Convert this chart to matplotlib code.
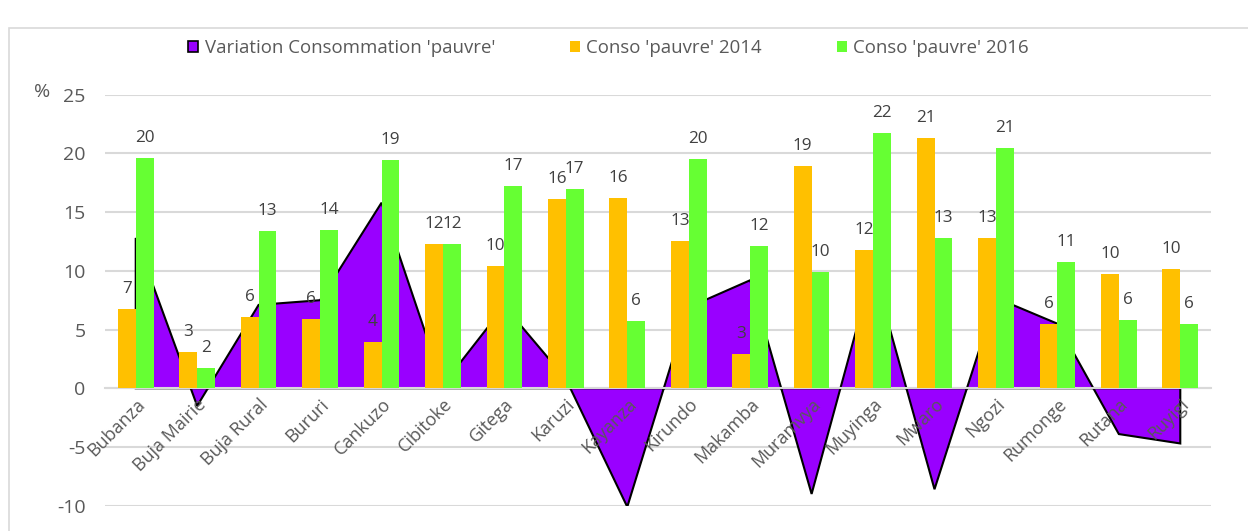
import numpy as np
import matplotlib.pyplot as plt
from matplotlib.patches import Patch, Rectangle

plt.rcParams['font.family'] = ['Open Sans', 'DejaVu Sans']
plt.rcParams['axes.unicode_minus'] = False

provinces = ['Bubanza', 'Buja Mairie', 'Buja Rural', 'Bururi', 'Cankuzo', 'Cibitoke',
             'Gitega', 'Karuzi', 'Kayanza', 'Kirundo', 'Makamba', 'Muramvya',
             'Muyinga', 'Mwaro', 'Ngozi', 'Rumonge', 'Rutana', 'Ruyigi']
variation = [12.8, -1.5, 7.1, 7.5, 15.8, 0.3, 7.0, 0.8, -10.1, 6.9, 9.2, -9.0,
             10.2, -8.6, 7.7, 5.5, -3.9, -4.7]
conso_2014 = [6.75, 3.08, 6.1, 5.92, 3.9, 12.25, 10.37, 16.1, 16.18, 12.5, 2.93, 18.9,
              11.76, 21.33, 12.76, 5.5, 9.77, 10.17]
conso_2016 = [19.57, 1.76, 13.36, 13.5, 19.43, 12.25, 17.26, 17.0, 5.75, 19.5, 12.1, 9.94,
              21.76, 12.76, 20.5, 10.77, 5.84, 5.5]
yticks = [-10, -5, 0, 5, 10, 15, 20, 25]

purple = '#9900FF'
orange = '#FFC000'
green = '#66FF33'
txt = '#595959'

fig = plt.figure(figsize=(12.48, 5.31), dpi=100)
ax = fig.add_axes([105 / 1248, 25.3 / 531, 1106 / 1248, 411 / 531])

x = np.arange(len(provinces))
w = 0.29

# area for the variation, drawn behind bars
px = np.concatenate([[x[0]], x, [x[-1]]])
py = np.concatenate([[0], variation, [0]])
ax.fill(px, py, facecolor=purple, edgecolor='black', linewidth=1.5, zorder=2)

ax.bar(x - w / 2, conso_2014, width=w, color=orange, zorder=4)
ax.bar(x + w / 2, conso_2016, width=w, color=green, zorder=4)

def lab(v):
    return str(int(np.floor(v + 0.5)))

for xi, a, b in zip(x, conso_2014, conso_2016):
    ax.annotate(lab(a), (xi - w / 2, a), xytext=(0, 20), textcoords='offset pixels',
                ha='center', va='center', fontsize=12.3, color='#404040', zorder=5)
    ax.annotate(lab(b), (xi + w / 2, b), xytext=(0, 20), textcoords='offset pixels',
                ha='center', va='center', fontsize=12.3, color='#404040', zorder=5)

ax.set_xlim(-0.5, len(provinces) - 0.5)
ax.set_ylim(-10, 25)
ax.set_yticks(yticks)
ax.grid(axis='y', color='#d9d9d9', linewidth=1.5)
ax.set_axisbelow(True)
ax.xaxis.set_zorder(6)  # category names drawn over the area
for s in ['top', 'right', 'left']:
    ax.spines[s].set_visible(False)
ax.spines['bottom'].set_position(('data', 0))
ax.spines['bottom'].set_color('#d9d9d9')
ax.spines['bottom'].set_linewidth(1.5)
ax.spines['bottom'].set_zorder(3)
ax.tick_params(axis='y', length=0, pad=14, labelsize=14, labelcolor=txt)
ax.tick_params(axis='x', length=0, pad=5, labelsize=13, labelcolor=txt)
ax.set_xticks(x, provinces, rotation=45, ha='right', rotation_mode='anchor')

fig.text(42.5 / 1248, 1 - 92 / 531, '%', fontsize=14, color=txt, ha='center', va='center')

handles = [Patch(facecolor=purple, edgecolor='black', linewidth=1.2),
           Patch(facecolor=orange), Patch(facecolor=green)]
fig.legend(handles, ["Variation Consommation 'pauvre'", "Conso 'pauvre' 2014",
                     "Conso 'pauvre' 2016"],
           loc='center', bbox_to_anchor=(608.5 / 1248, 1 - 48 / 531), ncol=3,
           frameon=False, fontsize=13.4, labelcolor=txt, handlelength=0.55,
           handleheight=0.55, handletextpad=0.35, columnspacing=4.0)

fig.patches.append(Rectangle((8.5 / 1248, -0.05), 1.1, 1.05 - 28 / 531,
                             transform=fig.transFigure, fill=False,
                             edgecolor='#d9d9d9', linewidth=1.2))

fig.savefig('out.png', dpi=100)
